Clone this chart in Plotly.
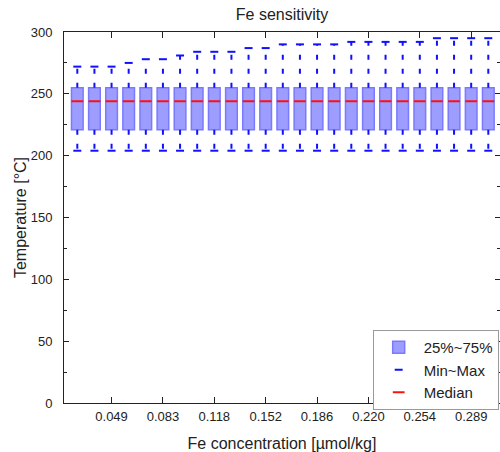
import plotly.graph_objects as go

# Fe concentration categories [µmol/kg]
concentrations = ["0.026", "0.037", "0.049", "0.060", "0.071", "0.083", "0.094",
                  "0.106", "0.118", "0.129", "0.140", "0.152", "0.163", "0.174",
                  "0.186", "0.197", "0.209", "0.220", "0.231", "0.243", "0.254",
                  "0.266", "0.277", "0.289", "0.300"]
tick_labels = ["0.049", "0.083", "0.118", "0.152", "0.186", "0.220", "0.254", "0.289"]

# Box statistics [°C]
t_min = [204, 204, 204, 204, 204, 204, 204, 204, 204, 204, 204, 204, 204,
         204, 204, 204, 204, 204, 204, 204, 204, 204, 204, 204, 204]
t_q1 = [221, 221, 221, 221, 221, 221, 221, 221, 221, 221, 221, 221, 221,
        221, 221, 221, 221, 221, 221, 221, 221, 221, 221, 221, 221]
t_median = [244, 244, 244, 244, 244, 244, 244, 244, 244, 244, 244, 244, 244,
            244, 244, 244, 244, 244, 244, 244, 244, 244, 244, 244, 244]
t_q3 = [255, 255, 255, 255, 255, 255, 255, 255, 255, 255, 255, 255, 255,
        255, 255, 255, 255, 255, 255, 255, 255, 255, 255, 255, 255]
t_max = [272, 272, 272, 275, 278, 278, 281, 284, 284, 284, 287, 287, 290,
         290, 290, 290, 292, 292, 292, 292, 292, 295, 295, 295, 295]

FONT = "Liberation Sans, Arial, sans-serif"
BLUE = "#1010ff"

fig = go.Figure()

# Interquartile boxes
fig.add_trace(go.Bar(
    x=concentrations,
    y=[h - l for h, l in zip(t_q3, t_q1)],
    base=t_q1,
    width=0.68,
    marker=dict(color="#9d9dff", line=dict(color="#7a7aff", width=1.5)),
    name="25%~75%",
    showlegend=True,
))

# Dashed whiskers, drawn outward from the box edges
wx, wy = [], []
for c, lo, q1, q3, hi in zip(concentrations, t_min, t_q1, t_q3, t_max):
    wx += [c, c, None, c, c, None]
    wy += [q3, hi, None, q1, lo, None]
fig.add_trace(go.Scatter(
    x=wx, y=wy, mode="lines",
    line=dict(color=BLUE, width=2, dash="5px,9px"),
    showlegend=False, hoverinfo="skip", legendgroup="mm",
))

# Whisker caps
fig.add_trace(go.Scatter(
    x=concentrations + concentrations,
    y=t_max + t_min,
    mode="markers",
    marker=dict(symbol="line-ew", size=5.7, line=dict(color=BLUE, width=2)),
    name="Min~Max", legendgroup="mm",
))

# Medians
fig.add_trace(go.Scatter(
    x=concentrations, y=t_median, mode="markers",
    marker=dict(symbol="line-ew", size=8.4, line=dict(color="#ff1010", width=2)),
    name="Median",
))

fig.update_layout(
    width=500, height=452,
    margin=dict(l=64, r=0, t=32, b=49),
    paper_bgcolor="white", plot_bgcolor="white",
    font=dict(family=FONT, size=13, color="#222"),
    title=dict(text="Fe sensitivity", x=0.5, xref="paper", y=1 - 14 / 452,
               yref="container", yanchor="middle", font=dict(size=16, color="#222")),
    barmode="overlay",
    legend=dict(x=0.708, y=0.197, xanchor="left", yanchor="top",
                bordercolor="#999", borderwidth=1, bgcolor="white",
                font=dict(size=15, color="#222"), traceorder="normal",
                itemwidth=40),
)

fig.update_xaxes(
    type="category", categoryorder="array", categoryarray=concentrations,
    range=[-0.777, 24.683],
    tickmode="array", tickvals=tick_labels, ticktext=tick_labels,
    ticks="inside", ticklen=6, tickcolor="#222", tickwidth=1,
    showline=True, linecolor="#222", linewidth=1, mirror="ticks",
    showgrid=False, zeroline=False, ticklabelstandoff=1,
    title=dict(text="Fe concentration [µmol/kg]", font=dict(size=16), standoff=17),
)
fig.update_yaxes(
    range=[0, 300], dtick=50, tick0=0,
    ticks="inside", ticklen=5, tickcolor="#222", tickwidth=1,
    minor=dict(ticks="inside", ticklen=3, dtick=25, tickcolor="#222", showgrid=False),
    showline=True, linecolor="#222", linewidth=1, mirror="ticks",
    showgrid=False, zeroline=False, ticklabelstandoff=8,
    title=dict(text="Temperature [°C]", font=dict(size=16), standoff=0),
)

fig.write_html("out.html")
